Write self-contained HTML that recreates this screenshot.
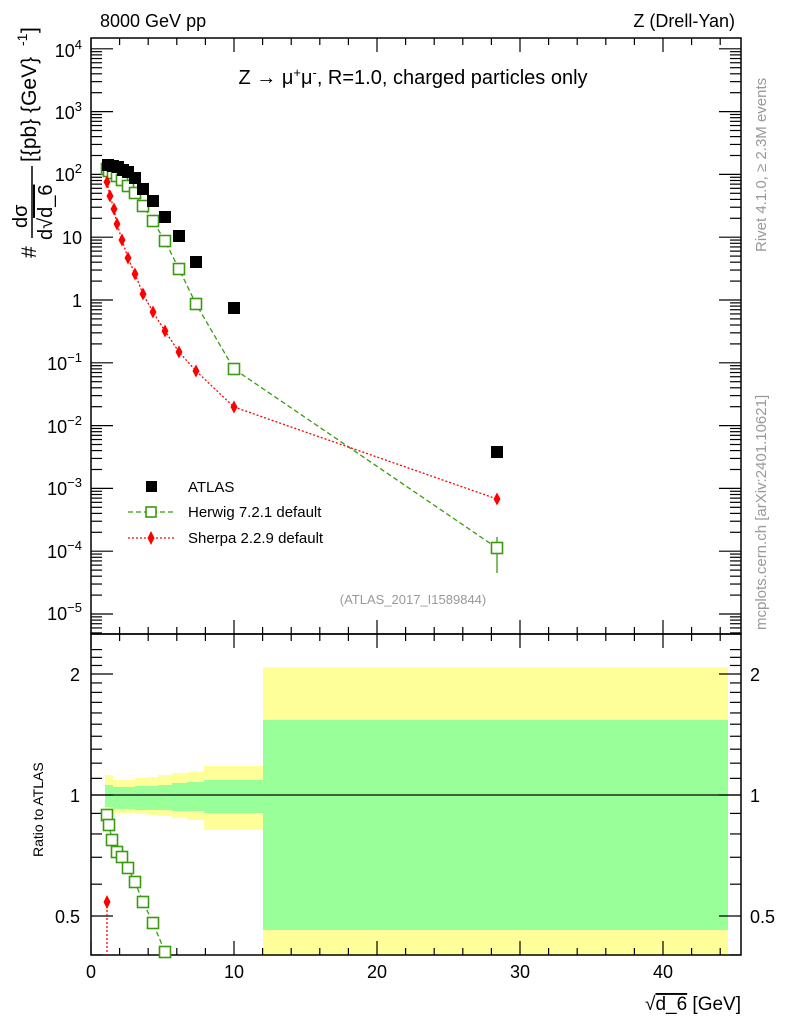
<!DOCTYPE html>
<html><head><meta charset="utf-8"><style>
html,body{margin:0;padding:0;background:#fff}
svg{display:block;font-family:"Liberation Sans",sans-serif}
</style></head><body>
<svg id="s" width="786" height="1024" viewBox="0 0 786 1024" xmlns="http://www.w3.org/2000/svg">
<g id="bands">
<polygon fill="#ffff99" points="105,775 113,775 113,780 120,780 120,780 135,780 135,778 148,778 148,777 158,777 158,775 172,775 172,773 187,773 187,772 204,772 204,766 263,766 263,830 204,830 204,820 187,820 187,818 172,818 172,816 158,816 158,815 148,815 148,814 135,814 135,813 113,813 105,813"/>
<polygon fill="#99ff99" points="105,785 113,785 113,787 135,787 135,786 158,786 158,785 172,785 172,783 187,783 187,782 204,782 204,780 263,780 263,813 204,813 204,811 172,811 172,810 135,810 135,809 113,809 113,807 105,807"/>
<rect x="263" y="667" width="465" height="288" fill="#ffff99"/>
<rect x="263" y="720" width="465" height="210" fill="#99ff99"/>
</g>
<line x1="91" y1="795" x2="741" y2="795" stroke="#000" stroke-width="1.3"/>
<g id="ticks" stroke="#000" stroke-width="1.2"></g>
<rect x="91" y="38" width="650" height="596" fill="none" stroke="#000" stroke-width="1.5"/>
<rect x="91" y="634" width="650" height="321" fill="none" stroke="#000" stroke-width="1.5"/>
<polyline fill="none" stroke="#3a9a10" stroke-width="1.3" stroke-dasharray="5,3" points="107,169 109,171 113,173 117,176 122,180 128,186 135,193 143,206 153,221 165,241 179,269 196,304 234,369 497,548"/>
<line x1="497" y1="537" x2="497" y2="573" stroke="#3a9a10" stroke-width="1.3"/>
<g fill="#fff" stroke="#3a9a10" stroke-width="1.6" id="hw"></g>
<polyline fill="none" stroke="#f00" stroke-width="1.3" stroke-dasharray="2,2" points="107,182 110,196 114,209 117,224 122,240 128,258 135,274 143,294 153,312 165,331 179,352 196,371 234,407 497,499"/>
<g fill="#f00" id="sh"></g>
<g fill="#000" id="at"></g>
<polyline fill="none" stroke="#3a9a10" stroke-width="1.3" stroke-dasharray="5,3" points="107,815 109,825 112,840 117,852 122,857 128,868 135,882 143,902 153,923 165,952"/>
<g fill="#fff" stroke="#3a9a10" stroke-width="1.6" id="hwr"></g>
<line x1="107" y1="902" x2="107" y2="955" stroke="#f00" stroke-width="1.3" stroke-dasharray="2,2"/>
<polygon fill="#f00" points="107,895 110.5,902 107,909 103.5,902"/>
<rect x="146" y="481" width="11" height="11" fill="#000"/>
<text x="188" y="492" font-size="15">ATLAS</text>
<line x1="128" y1="512" x2="176" y2="512" stroke="#3a9a10" stroke-width="1.3" stroke-dasharray="5,3"/>
<rect x="146" y="507" width="10" height="10" fill="#fff" stroke="#3a9a10" stroke-width="1.6"/>
<text x="188" y="517" font-size="15">Herwig 7.2.1 default</text>
<line x1="128" y1="538" x2="176" y2="538" stroke="#f00" stroke-width="1.3" stroke-dasharray="2,2"/>
<polygon fill="#f00" points="151,531 154.5,538 151,545 147.5,538"/>
<text x="188" y="543" font-size="15">Sherpa 2.2.9 default</text>
<text x="413" y="604" font-size="13" fill="#999" text-anchor="middle">(ATLAS_2017_I1589844)</text>
<text x="100" y="27" font-size="18">8000 GeV pp</text>
<text x="735" y="27" font-size="18" text-anchor="end">Z (Drell-Yan)</text>
<text x="413" y="84" font-size="20" text-anchor="middle">Z → μ<tspan font-size="13" dy="-7">+</tspan><tspan dy="7">μ</tspan><tspan font-size="13" dy="-7">-</tspan><tspan dy="7">, R=1.0, charged particles only</tspan></text>
<text transform="translate(766,252) rotate(-90)" font-size="15" fill="#999">Rivet 4.1.0, ≥ 2.3M events</text>
<text transform="translate(766,630) rotate(-90)" font-size="15" fill="#999">mcplots.cern.ch [arXiv:2401.10621]</text>
<g font-size="18" text-anchor="end">
<text x="82" y="57">10<tspan font-size="13" dy="-8">4</tspan></text>
<text x="82" y="119">10<tspan font-size="13" dy="-8">3</tspan></text>
<text x="82" y="181">10<tspan font-size="13" dy="-8">2</tspan></text>
<text x="82" y="244">10</text>
<text x="82" y="307">1</text>
<text x="82" y="370">10<tspan font-size="13" dy="-8">−1</tspan></text>
<text x="82" y="433">10<tspan font-size="13" dy="-8">−2</tspan></text>
<text x="82" y="495">10<tspan font-size="13" dy="-8">−3</tspan></text>
<text x="82" y="558">10<tspan font-size="13" dy="-8">−4</tspan></text>
<text x="82" y="620">10<tspan font-size="13" dy="-8">−5</tspan></text>
<text x="80" y="681">2</text><text x="80" y="802">1</text><text x="80" y="923">0.5</text>
</g>
<g font-size="18">
<text x="750" y="681">2</text><text x="750" y="802">1</text><text x="750" y="923">0.5</text>
</g>
<g font-size="18" text-anchor="middle">
<text x="91" y="978">0</text><text x="234" y="978">10</text><text x="377" y="978">20</text><text x="520" y="978">30</text><text x="663" y="978">40</text>
</g>
<text x="741" y="1010" font-size="19" text-anchor="end">√<tspan text-decoration="overline">d_6</tspan> [GeV]</text>
<text transform="translate(43,857) rotate(-90)" font-size="14">Ratio to ATLAS</text>
<g transform="translate(36,258) rotate(-90)" font-size="21">
<text x="0" y="0">#</text>
<text x="30" y="-9" font-size="20">dσ</text>
<line x1="20" y1="-4" x2="92" y2="-4" stroke="#000" stroke-width="1.5"/>
<text x="18" y="16" font-size="20">d√<tspan text-decoration="overline">d_6</tspan></text>
<text x="96" y="0">[{pb} {GeV}</text>
<text x="212" y="-9" font-size="14">-1</text>
<text x="225" y="0">]</text>
</g>
</svg>
<script>
var NS="http://www.w3.org/2000/svg";
function el(p,t,a){var e=document.createElementNS(NS,t);for(var k in a)e.setAttribute(k,a[k]);document.getElementById(p).appendChild(e);}
function L(x1,y1,x2,y2){el("ticks","line",{x1:x1,y1:y1,x2:x2,y2:y2});}
for(var v=0;v<=45;v++){var x=91+v*14.3;var len=(v%10==0)?14:(v%2==0?7:0);if(!len)continue;
L(x,634,x,634-len);L(x,38,x,38+len);L(x,634,x,634+len);L(x,955,x,955-len);}
for(var d=-6;d<=4;d++){for(var m=1;m<10;m++){var y=300-62.8*(d+Math.log10(m));if(y<38||y>634)continue;var len=m==1?22:11;L(91,y,91+len,y);L(741,y,741-len,y);}}
for(var k=3;k<=23;k++){var rr=k/10;var y=795-402*Math.log10(rr);if(y<634||y>955)continue;var len=(k==5||k==10||k==20)?22:11;L(91,y,91+len,y);L(741,y,741-len,y);}
var hw=[[107,169],[109,171],[113,173],[117,176],[122,180],[128,186],[135,193],[143,206],[153,221],[165,241],[179,269],[196,304],[234,369],[497,548]];
hw.forEach(function(p){el("hw","rect",{x:p[0]-5.5,y:p[1]-5.5,width:11,height:11});});
var sh=[[107,182],[110,196],[114,209],[117,224],[122,240],[128,258],[135,274],[143,294],[153,312],[165,331],[179,352],[196,371],[234,407],[497,499]];
sh.forEach(function(p){el("sh","polygon",{points:(p[0])+","+(p[1]-6.5)+" "+(p[0]+3.5)+","+p[1]+" "+p[0]+","+(p[1]+6.5)+" "+(p[0]-3.5)+","+p[1]});});
var at=[[108,165],[113,166],[118,167],[123,170],[128,172],[135,178],[143,189],[153,201],[165,217],[179,236],[196,262],[234,308],[497,452]];
at.forEach(function(p){el("at","rect",{x:p[0]-6,y:p[1]-6,width:12,height:12});});
var hr=[[107,815],[109,825],[112,840],[117,852],[122,857],[128,868],[135,882],[143,902],[153,923],[165,952]];
hr.forEach(function(p){el("hwr","rect",{x:p[0]-5.5,y:p[1]-5.5,width:11,height:11});});
</script>
</body></html>
